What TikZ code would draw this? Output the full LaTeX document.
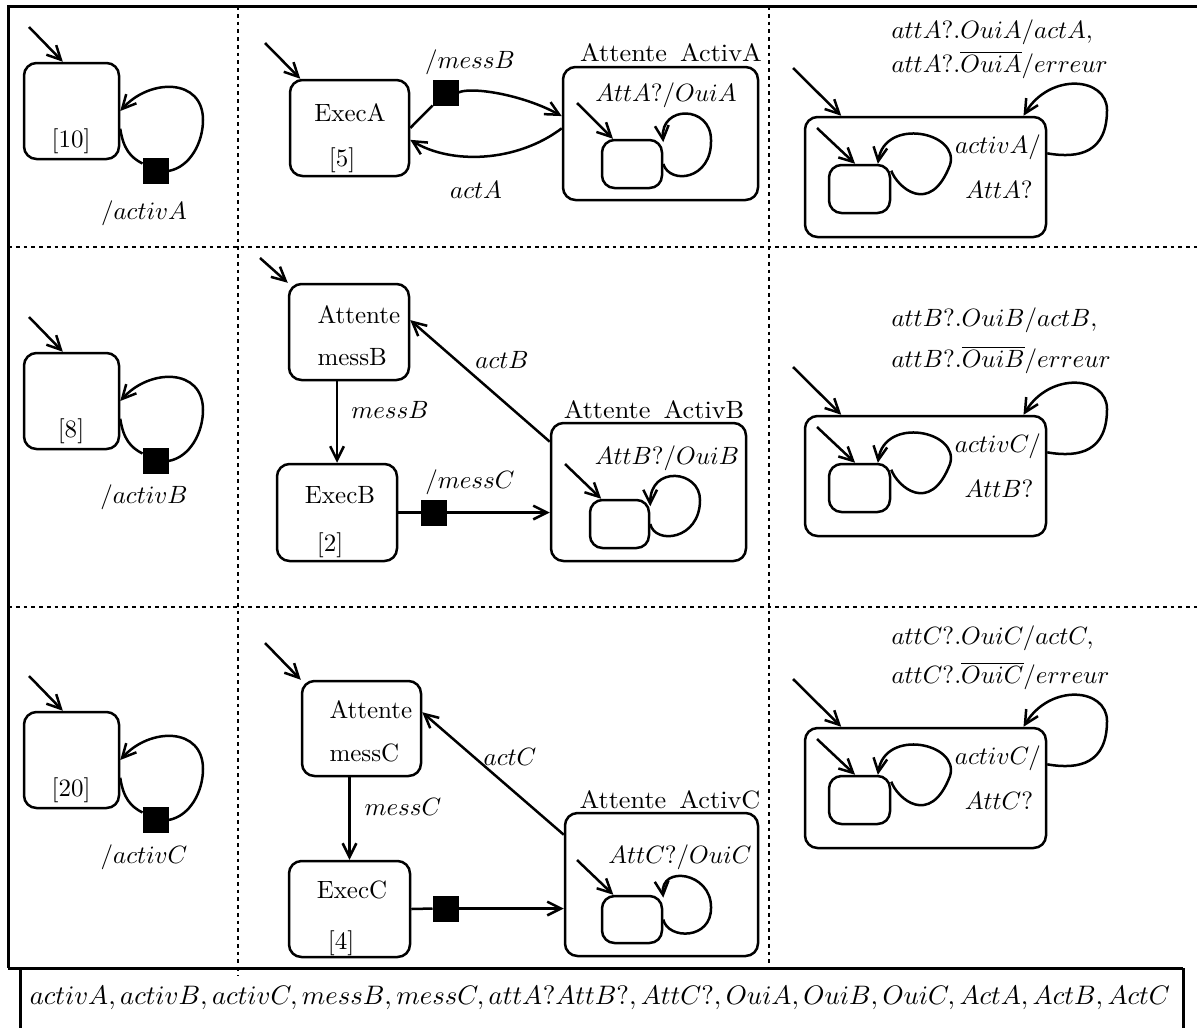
\documentclass[tikz,border=0pt]{standalone}
\usetikzlibrary{arrows.meta}
\tikzset{
  every node/.append style={inner sep=0pt},
  st/.style={draw, rounded corners=5pt, line width=1pt},
  sz/.style 2 args={minimum width=#1*0.4pt, minimum height=#2*0.4pt},
  sq/.style={fill=black, draw=black, minimum size=10pt},
  ln/.style={line width=1pt},
  tr/.style={line width=1pt, -{Straight Barb[length=5.5pt,width=5.5pt]}},
  gridline/.style={line width=1pt, dash pattern=on 1.5pt off 1.6pt},
  frame/.style={line width=1.2pt},
  ttl/.style={xscale=1.05},
}
\newcommand\leftcell[5]{%
\begin{scope}[shift={(0,#2)}]
  \node[st, sz={95}{96}] (b#1) at (71.5,48) {};
  \node at (71,78) {[#3]};
  \node[sq] (q#1) at (155.5,108) {};
  \node at (144,#5) {$/#4$};
  \coordinate (bi#1) at (29,-36);
  \draw[tr] (bi#1) -- (b#1.100);
  \draw[ln] (b#1.-20) .. controls +(3,20) and +(-12,-6) .. (q#1.150);
  \draw[tr] (q#1.east) .. controls +(22,-4) and +(0,22) .. (203,57) .. controls (203,15) and (150,15) .. (b#1.east);
\end{scope}}
\newcommand\rightcell[8]{%
\begin{scope}[shift={(805,#2)}]
  \node[st, sz={241}{120}] (o#1) at (120.5,60) {};
  \node[st, sz={61}{48}] (n#1) at (54.5,72) {};
  \coordinate (oi#1) at (-12,-49);
  \coordinate (ni#1) at (12,11);
  \draw[tr] (oi#1) -- (o#1.144);
  \draw[tr] (ni#1) -- (n#1.100);
  \draw[tr] (o#1.11) .. controls (275,42) and (302,35) .. (302,-7) .. controls (302,-40) and (245,-45) .. (o#1.32);
  \draw[tr] (n#1.30) .. controls (92,70) and (125,100) .. (145,48) .. controls (155,15) and (80,0) .. (n#1.54);
  \node[anchor=west] at (86,#3) {$#5$};
  \node[anchor=west] at (86,#4) {$#6$};
  \node at (193,30) {$#7$};
  \node at (194,73) {$#8$};
\end{scope}}
\begin{document}
\begin{tikzpicture}[x=0.4pt,y=-0.4pt]
\useasboundingbox (0,0) rectangle (1197,1027);
\clip (0,0) rectangle (1197,1027);
% frame
\draw[frame] (8,968) -- (8,6) -- (1205,6);
\draw[frame] (8,968) -- (1183,968);
\draw[frame] (20,1040) -- (20,968);
\draw[frame] (1183,968) -- (1183,1040);
% grid
\draw[gridline] (238,6) -- (238,975);
\draw[gridline] (769,6) -- (769,970);
\draw[gridline] (8,247) -- (1205,247);
\draw[gridline] (8,607) -- (1205,607);
% legend
\node[scale=1.07] (leg) at (600,998) {$activA, activB, activC, messB, messC, attA?AttB?, AttC?, OuiA, OuiB, OuiC, ActA, ActB, ActC$};
% column 1
\leftcell{1}{63}{10}{activA}{150}
\leftcell{2}{353}{8}{activB}{144}
\leftcell{3}{712}{20}{activC}{145}
% column 3
\rightcell{1}{117}{-85}{-52}{attA?.OuiA/actA,}{attA?.\overline{OuiA}/erreur}{activA/}{AttA?}
\rightcell{2}{416}{-96}{-56}{attB?.OuiB/actB,}{attB?.\overline{OuiB}/erreur}{activC/}{AttB?}
\rightcell{3}{728}{-90}{-52}{attC?.OuiC/actC,}{attC?.\overline{OuiC}/erreur}{activC/}{AttC?}
% column 2, row 1
\node[st, sz={119}{96}] (eA) at (349.5,128) {};
\node at (350,113) {ExecA};
\node at (342,160) {[5]};
\node[sq] (qA) at (445.5,92.5) {};
\node at (470,62) {$/messB$};
\node[st, sz={195}{133}] (AA) at (660.5,133.5) {};
\node[ttl] at (671,53) {Attente\hspace{5pt}ActivA};
\node at (666,95) {$AttA?/OuiA$};
\node[st, sz={60}{48}] (iA) at (632,164) {};
\coordinate (s1) at (265,43);
\draw[tr] (s1) -- (eA.135);
\coordinate (s2) at (577,103);
\draw[tr] (s2) -- (iA.127);
\draw[ln] (eA.east) -- (qA.south west);
\draw[tr] (qA.east) .. controls +(12,-6) and +(-40,-22) .. (AA.170);
\draw[tr] (AA.177) .. controls +(-45,34) and +(41,25) .. (eA.-11);
\node at (476,190) {$actA$};
\draw[tr] (iA.east) .. controls (670,185) and (712,180) .. (711,140) .. controls (711,105) and (660,105) .. (iA.35);
% column 2, row 2
\node[st, sz={120}{96}] (AmB) at (349,332) {};
\node[anchor=west] at (317,315) {Attente};
\node[anchor=west] at (317,357) {messB};
\node[st, sz={120}{97}] (eB) at (337,512.5) {};
\node at (340,495) {ExecB};
\node at (330,545) {[2]};
\node[sq] (qB) at (433.5,512.5) {};
\node at (470,482) {$/messC$};
\node[st, sz={195}{138}] (AB) at (648.5,492) {};
\node[ttl] at (654,410) {Attente\hspace{5pt}ActivB};
\node at (667,458) {$AttB?/OuiB$};
\node[st, sz={59}{48}] (iB) at (619.5,524) {};
\coordinate (s3) at (260,258);
\draw[tr] (s3) -- (AmB.north west);
\draw[tr] (eB.north |- AmB.south) -- (eB.north);
\node at (390,410) {$messB$};
\draw[ln] (eB.east) -- (qB.west);
\draw[tr] (qB.east) -- (qB.east -| AB.west);
\draw[tr] (AB.153) -- (AmB.11);
\node at (502,360) {$actB$};
\coordinate (s4) at (565,464);
\draw[tr] (s4) -- (iB.126);
\draw[tr] (iB.east) .. controls (655,545) and (700,540) .. (700,500) .. controls (700,470) and (650,465) .. (iB.30);
% column 2, row 3
\node[st, sz={119}{95}] (AmC) at (361.5,728.5) {};
\node[anchor=west] at (329,710) {Attente};
\node[anchor=west] at (329,753) {messC};
\node[st, sz={121}{96}] (eC) at (349.5,909) {};
\node at (352,890) {ExecC};
\node at (341,943) {[4]};
\node[sq] (qC) at (445.5,908.5) {};
\node[st, sz={193}{143}] (AC) at (661.5,884.5) {};
\node[ttl] at (670,800) {Attente\hspace{5pt}ActivC};
\node at (680,857) {$AttC?/OuiC$};
\node[st, sz={60}{47}] (iC) at (632,919.5) {};
\coordinate (s5) at (265,643);
\draw[tr] (s5) -- (AmC.north west);
\draw[tr] (eC.north |- AmC.south) -- (eC.north);
\node at (403,807) {$messC$};
\draw[ln] (eC.east) -- (qC.west);
\draw[tr] (qC.east) -- (qC.east -| AC.west);
\draw[tr] (AC.153) -- (AmC.15);
\node at (510,757) {$actC$};
\coordinate (s6) at (577,860);
\draw[tr] (s6) -- (iC.127);
\draw[tr] (iC.east) .. controls (668,940) and (712,940) .. (711,907) .. controls (711,872) and (660,865) .. (iC.35);
\end{tikzpicture}
\end{document}
